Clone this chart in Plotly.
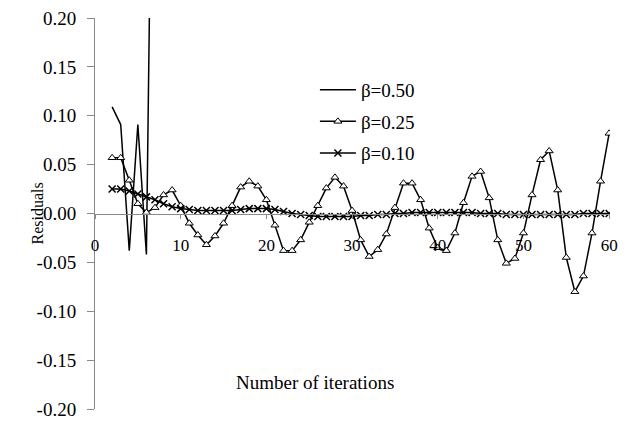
import plotly.graph_objects as go

# Residual histories for three relaxation factors
iter_050 = [2, 3, 4, 5, 6, 7]
res_050 = [0.109, 0.091, -0.038, 0.091, -0.042, 0.66]

iter_025 = list(range(2, 61))
res_025 = [0.057, 0.057, 0.034, 0.010, 0.001, 0.006, 0.019, 0.024, 0.008,
           -0.010, -0.022, -0.032, -0.023, -0.010, 0.008, 0.027, 0.033, 0.028, 0.014,
           -0.012, -0.038, -0.038, -0.027, -0.009, 0.008, 0.026, 0.037, 0.028, 0.003,
           -0.027, -0.044, -0.037, -0.021, 0.006, 0.031, 0.031, 0.014, -0.015, -0.035,
           -0.038, -0.020, 0.011, 0.038, 0.043, 0.016, -0.027, -0.051, -0.046, -0.020,
           0.019, 0.055, 0.064, 0.024, -0.045, -0.080, -0.064, -0.020, 0.033, 0.082]

iter_010 = list(range(2, 61))
res_010 = [0.025, 0.025, 0.023, 0.020, 0.017, 0.014, 0.010, 0.007, 0.005,
           0.004, 0.003, 0.003, 0.003, 0.003, 0.003, 0.004, 0.005, 0.005, 0.005,
           0.004, 0.002, 0.000, -0.001, -0.002, -0.003, -0.003, -0.003, -0.003, -0.003,
           -0.002, -0.002, -0.001, -0.001, 0.000, 0.000, 0.001, 0.001, 0.001, 0.001,
           0.001, 0.001, 0.001, 0.001, 0.000, 0.000, 0.000, -0.001, -0.001, -0.001,
           -0.001, -0.001, -0.001, -0.001, -0.001, -0.001, 0.000, 0.000, 0.000, 0.000]

x_ticks = [0, 10, 20, 30, 40, 50, 60]
y_ticks = [-0.20, -0.15, -0.10, -0.05, 0.00, 0.05, 0.10, 0.15, 0.20]
y_tick_text = ["-0.20", "-0.15", "-0.10", "-0.05", "0.00", "0.05", "0.10", "0.15", "0.20"]

FONT = "Liberation Serif, Times New Roman, serif"
AXIS_GREY = "#8a8a8a"

fig = go.Figure()
fig.add_trace(go.Scatter(
    x=iter_050, y=res_050, mode="lines", name="β=0.50", legendgroup="a",
    line=dict(color="black", width=1.5),
))
fig.add_trace(go.Scatter(
    x=iter_025, y=res_025, mode="lines+markers", name="β=0.25", legendgroup="b",
    line=dict(color="black", width=1.5),
    marker=dict(symbol="triangle-up", size=7, color="white",
                line=dict(color="black", width=1)),
))
fig.add_trace(go.Scatter(
    x=iter_010, y=res_010, mode="lines+markers", name="β=0.10", legendgroup="c",
    line=dict(color="black", width=1.5),
    marker=dict(symbol="x-thin", size=7, color="black",
                line=dict(color="black", width=1.5)),
))

fig.update_layout(
    width=626, height=428,
    margin=dict(l=95, r=8, t=17, b=11),
    paper_bgcolor="white", plot_bgcolor="white",
    font=dict(family=FONT, size=17, color="black"),
    showlegend=True,
    legend=dict(x=0.427, y=0.865, xanchor="left", yanchor="top",
                font=dict(family=FONT, size=19), tracegroupgap=4,
                itemwidth=36, bgcolor="rgba(0,0,0,0)"),
    xaxis=dict(
        range=[0, 60.1], anchor="free", position=0.5,
        showline=True, linecolor=AXIS_GREY, linewidth=1,
        ticks="outside", ticklen=4, tickcolor=AXIS_GREY,
        tickvals=x_ticks, ticktext=[str(v) for v in x_ticks],
        tickfont=dict(family=FONT, size=17, color="black"),
        ticklabelstandoff=12, showgrid=False, zeroline=False,
    ),
    yaxis=dict(
        range=[-0.2, 0.2],
        showline=True, linecolor=AXIS_GREY, linewidth=1,
        ticks="outside", ticklen=7, tickcolor=AXIS_GREY,
        tickvals=y_ticks, ticktext=y_tick_text,
        tickfont=dict(family=FONT, size=19, color="black"),
        ticklabelstandoff=7, showgrid=False, zeroline=False,
    ),
    annotations=[
        dict(text="Residuals", xref="paper", yref="paper", x=0, y=0.5,
             xanchor="center", yanchor="middle",
             xshift=-58, textangle=-90, showarrow=False,
             font=dict(family=FONT, size=16)),
        dict(text="Number of iterations", xref="paper", yref="paper",
             x=0.4264, y=0.0675, xanchor="center", yanchor="middle",
             showarrow=False, font=dict(family=FONT, size=19)),
    ],
)

fig.write_html("out.html")
